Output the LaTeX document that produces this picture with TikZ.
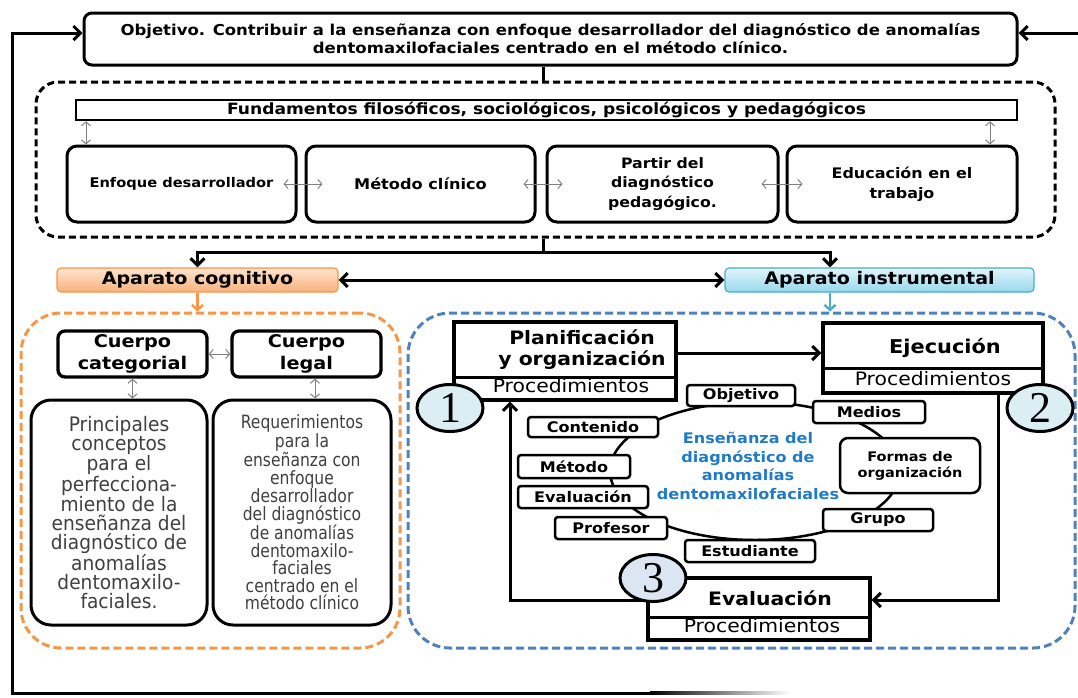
\documentclass[tikz,border=0pt]{standalone}
\usepackage{fontspec}
\setmainfont{DejaVu Sans}[FakeStretch=1.1]
\newfontfamily\nf{DejaVu Sans}[FakeStretch=0.85]
\newfontfamily\nfw{DejaVu Sans}[FakeStretch=0.93]
\newfontfamily\numf{Liberation Serif}
\usetikzlibrary{arrows.meta,shapes.geometric,calc}
\definecolor{cOr}{HTML}{F79646}
\definecolor{cOrL}{HTML}{FDE3CD}
\definecolor{cOrD}{HTML}{F9B27C}
\definecolor{cBl}{HTML}{4F81BD}
\definecolor{cTe}{HTML}{4BACC6}
\definecolor{cTeL}{HTML}{E2F5FB}
\definecolor{cTeD}{HTML}{96D8EE}
\definecolor{cTx}{HTML}{1F7BC8}
\definecolor{cGr}{HTML}{404040}
\definecolor{cCirA}{HTML}{DAEEF3}
\definecolor{cCirB}{HTML}{DCE6F2}
\newcommand{\fz}[2]{\fontsize{#1pt}{#2pt}\selectfont}
\newcommand{\bx}[7]{\node[#6, minimum width={(#4)-(#2)}, minimum height={(#5)-(#3)}] (#1) at ({((#2)+(#4))/2},{((#3)+(#5))/2}) {#7};}
\tikzset{
  ln/.style={line width=3pt},
  arr/.style={line width=3pt, -{Straight Barb[length=7pt,width=14pt]}},
  arrb/.style={line width=3pt, {Straight Barb[length=7pt,width=14pt]}-{Straight Barb[length=7pt,width=14pt]}},
  garr/.style={line width=1pt, draw=gray, {Straight Barb[length=4pt,width=9pt]}-{Straight Barb[length=4pt,width=9pt]}},
  oarr/.style={line width=2.4pt, draw=cOr, -{Straight Barb[length=5pt,width=11pt]}},
  tarr/.style={line width=2.4pt, draw=cTe, -{Straight Barb[length=5pt,width=11pt]}},
  rbox/.style={draw, line width=3pt, rounded corners=10pt, inner sep=0pt, align=center, fill=white},
  sbox/.style={draw, line width=3pt, inner sep=0pt, align=center, fill=white},
  dbox/.style={draw, line width=3pt, dash pattern=on 7pt off 4pt, rounded corners=22pt, inner sep=0pt},
  abox/.style={line width=1.2pt, rounded corners=4pt, inner sep=0pt, align=center, font=\fz{17.3}{20}\bfseries},
  smb/.style={draw, fill=white, line width=2.5pt, rounded corners=3pt, inner sep=0pt, align=center, font=\fz{14.6}{17}\bfseries},
  numc/.style={draw, ellipse, line width=3pt, minimum width=66pt, minimum height=47pt, inner sep=0pt, font=\numf\fz{44}{44}},
  ring/.style={draw, ellipse, line width=2.5pt, minimum width=290pt, minimum height=138pt, inner sep=0pt},
  ptxt/.style={font=\fz{18.5}{21}\bfseries, align=center, inner sep=0pt},
  proc/.style={font=\fz{18.5}{20}, anchor=base, inner sep=0pt},
}
\begin{document}
\begin{tikzpicture}[x=1pt,y=-1pt]
\useasboundingbox (0,0) rectangle (1078,697);
% objective
\bx{obj}{84}{13}{1017}{65}{rbox, rounded corners=8pt, font=\fz{15}{18}\bfseries}{Objetivo. Contribuir a la enseñanza con enfoque desarrollador del diagnóstico de anomalías\\dentomaxilofaciales centrado en el método clínico.}
% feedback loop
\coordinate (lb) at (12,693);
\coordinate (bf) at (650,693);
\coordinate (rb) at (1078,33);
\draw[arr] (bf) -- (lb) |- ([yshift=6pt]obj.west);
\shade[left color=black, right color=white] (650,691.5) rectangle (790,694.5);
\draw[arr] (rb) -- (rb -| obj.east);
% foundations
\bx{fund}{36}{82}{1055}{237}{dbox}{}
\bx{fb}{76}{100}{1017}{120}{sbox, line width=2.5pt, font=\fz{15.55}{18}\bfseries}{Fundamentos filosóficos, sociológicos, psicológicos y pedagógicos}
\bx{b1}{67}{146}{296}{222}{rbox, font=\fz{13.3}{19}\bfseries}{Enfoque desarrollador}
\bx{b2}{306}{146}{535}{222}{rbox, font=\fz{14.7}{19}\bfseries}{Método clínico}
\bx{b3}{547}{146}{778}{222}{rbox, font=\fz{14.3}{19.5}\bfseries}{Partir del\\diagnóstico\\pedagógico.}
\bx{b4}{787}{146}{1017}{222}{rbox, font=\fz{14.5}{20}\bfseries}{Educación en el\\trabajo}
\coordinate (ga) at (86,0);
\coordinate (gb) at (990,0);
\draw[garr] (fb.south -| ga) -- (b1.north -| ga);
\draw[garr] (fb.south -| gb) -- (b4.north -| gb);
\draw[garr] ([xshift=-14pt]b1.east) -- ([xshift=18pt]b2.west);
\draw[garr] ([xshift=-13pt]b2.east) -- ([xshift=17pt]b3.west);
\draw[garr] ([xshift=-18pt]b3.east) -- ([xshift=17pt]b4.west);
\coordinate (stem) at (543,0);
\draw[ln] (obj.south -| stem) -- (fund.north -| stem);
% aparatos
\bx{cog}{57}{268}{338}{292}{abox, top color=cOrL, bottom color=cOrD, draw=cOr}{Aparato cognitivo}
\bx{ins}{725}{268}{1034}{292}{abox, top color=cTeL, bottom color=cTeD, draw=cTe}{Aparato instrumental}
\coordinate (hj) at (543,252);
\coordinate (insx) at (830,0);
\draw[ln] (fund.south -| stem) -- (hj);
\draw[arr] (hj) -| (cog.north);
\draw[arr] (hj) -| (ins.north -| insx);
\draw[arrb] (cog.east) -- (ins.west);
% coloured dashed areas
\bx{obox}{21}{313}{400}{648}{dbox, draw=cOr, rounded corners=40pt, dash pattern=on 8pt off 4pt}{}
\bx{bbox}{408}{313}{1075}{648}{dbox, draw=cBl, rounded corners=42pt, dash pattern=on 8pt off 4pt}{}
\draw[oarr] (cog.south) -- (obox.north -| cog.south);
\draw[tarr] (ins.south -| insx) -- (bbox.north -| insx);
% cognitive part
\bx{cc}{58}{331}{207}{377}{rbox, line width=3.3pt, rounded corners=7pt, font=\fz{17.5}{22}\bfseries}{Cuerpo\\categorial}
\bx{cl}{232}{331}{381}{377}{rbox, line width=3.3pt, rounded corners=7pt, font=\fz{17.5}{22}\bfseries}{Cuerpo\\legal}
\bx{tl}{31}{400}{207}{625}{rbox, rounded corners=20pt, text=cGr, font=\nfw\fz{20}{19}}{Principales\\conceptos\\para el\\perfecciona-\\miento de la\\enseñanza del\\diagnóstico de\\anomalías\\dentomaxilo-\\faciales.}
\bx{tr}{213}{400}{391}{625}{rbox, rounded corners=20pt, text=cGr, font=\nf\fz{18.3}{17.5}}{Requerimientos\\para la\\enseñanza con\\enfoque\\desarrollador\\del diagnóstico\\de anomalías\\dentomaxilo-\\faciales\\centrado en el\\método clínico}
\coordinate (clx) at (315,0);
\draw[garr] (cc.east) -- (cl.west);
\draw[garr] (cc.south) -- (tl.north -| cc.south);
\draw[garr] (cl.south -| clx) -- (tr.north -| clx);
% instrumental part: cycle
\node[ring] (ring) at (755,471) {};
\node[text=cTx, font=\fz{14.6}{18.7}\bfseries, align=center, inner sep=0pt] (enst) at (748,466) {Enseñanza del\\diagnóstico de\\anomalías\\dentomaxilofaciales};
\bx{sobj}{687}{385}{795}{406}{smb}{Objetivo}
\bx{smed}{813}{401}{925}{423}{smb}{Medios}
\bx{scon}{528}{417}{658}{437}{smb}{Contenido}
\bx{sfor}{840}{438}{980}{493}{smb, rounded corners=8pt, font=\fz{13.2}{16}\bfseries}{Formas de\\organización}
\bx{smet}{518}{455}{630}{478}{smb}{Método}
\bx{seva}{518}{486}{648}{508}{smb}{Evaluación}
\bx{sgru}{823}{509}{933}{531}{smb}{Grupo}
\bx{spro}{555}{517}{667}{539}{smb}{Profesor}
\bx{sest}{685}{540}{815}{562}{smb}{Estudiante}
% stage boxes
\coordinate (pd) at (0,377);
\coordinate (ed) at (0,368);
\coordinate (vd) at (0,617);
\bx{plan}{454}{322}{676}{400}{sbox, line width=3.3pt}{}
\node[proc] (planp) at (571,392) {Procedimientos};
\draw[line width=3pt] (plan.west |- pd) -- (plan.east |- pd);
\node[ptxt] (plant) at (582,350) {Planificación\\y organización};
\bx{ejec}{823}{323}{1043}{393}{sbox, line width=3.3pt}{}
\node[proc] (ejep) at (933,385) {Procedimientos};
\draw[line width=3pt] (ejec.west |- ed) -- (ejec.east |- ed);
\node[ptxt, font=\fz{19}{21}\bfseries] (ejet) at (945,348) {Ejecución};
\bx{eval}{648}{578}{870}{640}{sbox, line width=3.3pt}{}
\node[proc] (evap) at (762,632) {Procedimientos};
\draw[line width=3pt] (eval.west |- vd) -- (eval.east |- vd);
\node[ptxt] (evat) at (770,598) {Evaluación};
% stage arrows
\draw[arr] ([yshift=8pt]plan.east) -- ([yshift=8pt]plan.east -| ejec.west);
\coordinate (ejx) at (998,600);
\coordinate (plx) at (510,600);
\draw[arr] (ejec.south -| ejx) -- (ejx) -- (eval.east |- ejx);
\draw[arr] (eval.west |- plx) -- (plx) -- (plan.south -| plx);
% numbers
\node[numc, fill=cCirA] (n1) at (450,408) {1};
\node[numc, fill=cCirA] (n2) at (1040,408) {2};
\node[numc, fill=cCirB] (n3) at (653,578) {3};
\end{tikzpicture}
\end{document}
